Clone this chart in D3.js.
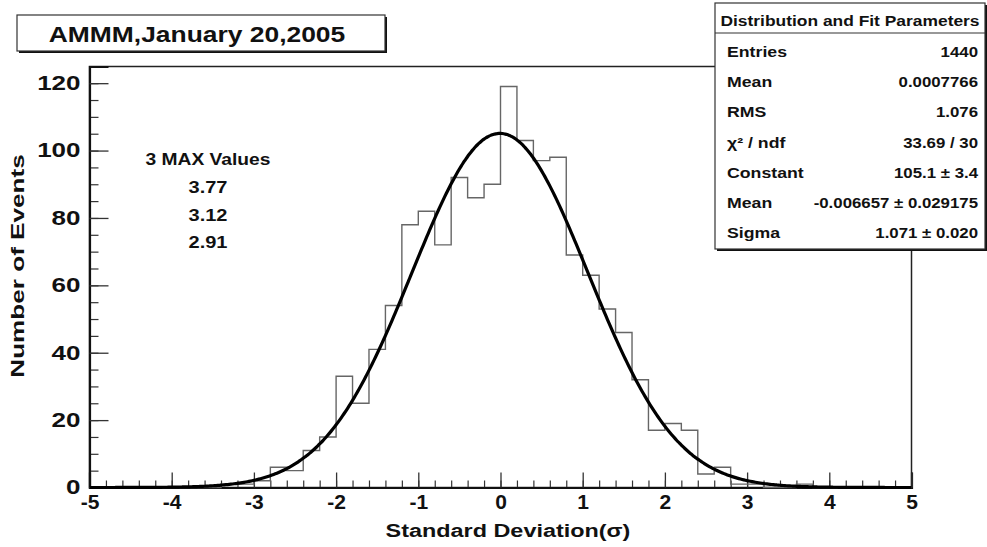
<!DOCTYPE html>
<html>
<head>
<meta charset="utf-8">
<script src="https://cdn.jsdelivr.net/npm/d3@7"></script>
<style>
  body { margin: 0; background: #fff; }
  text { font-family: "Liberation Sans", Arial, Helvetica, sans-serif; font-weight: bold; fill: #111; }
</style>
</head>
<body>
<script>
// histogram: 50 bins of width 0.2 from -5 to 5
const binLow = -5;
const binWidth = 0.2;
const counts = [
  0, 0, 0, 0, 0, 0, 0, 0, 1, 1,
  2, 6, 5, 11, 15, 33, 25, 41, 54, 78,
  82, 72, 92, 86, 90, 119, 103, 97, 98, 69,
  63, 53, 46, 32, 17, 19, 17, 4, 6, 1,
  1, 0, 0, 1, 0, 0, 0, 0, 0, 0
];

// gaussian fit parameters (from the stats box)
const fitConstant = 105.1;
const fitMean = -0.006657;
const fitSigma = 1.071;

const xTicks = [-5, -4, -3, -2, -1, 0, 1, 2, 3, 4, 5];
const yTicks = [0, 20, 40, 60, 80, 100, 120];

const titleText = "AMMM,January 20,2005";
const maxTitle = "3 MAX Values";
const maxValues = ["3.77", "3.12", "2.91"];

const statHeader = "Distribution and Fit Parameters";
const statLabels = ["Entries", "Mean", "RMS", "\u03C7\u00B2 / ndf", "Constant", "Mean", "Sigma"];
const statValues = ["1440", "0.0007766", "1.076", "33.69 / 30", "105.1 \u00B1 3.4", "-0.006657 \u00B1 0.029175", "1.071 \u00B1 0.020"];

const width = 987;
const height = 547;
const mLeft = 89.5, mRight = 911.5, mTop = 66.5, mBottom = 487.5;
const yMax = 124.95;

const svg = d3.select("body").append("svg")
  .attr("width", width)
  .attr("height", height);

const x = d3.scaleLinear().domain([-5, 5]).range([mLeft, mRight]);
const y = d3.scaleLinear().domain([0, yMax]).range([mBottom, mTop]);

// text in the picture is wide, stretch it horizontally
function widen(sel, f) {
  sel.each(function() {
    const w = this.getComputedTextLength();
    d3.select(this).attr("textLength", w * f).attr("lengthAdjust", "spacingAndGlyphs");
  });
}

// frame
svg.append("rect")
  .attr("x", mLeft).attr("y", mTop)
  .attr("width", mRight - mLeft).attr("height", mBottom - mTop)
  .attr("fill", "none").attr("stroke", "#222").attr("stroke-width", 1.5);

// minor ticks
svg.append("g")
  .attr("transform", `translate(0,${mBottom})`)
  .call(d3.axisBottom(x).tickValues(d3.range(-5, 5.001, 0.2)).tickSize(-7).tickFormat(""))
  .call(g => g.select(".domain").remove())
  .selectAll("line").attr("stroke", "#333").attr("stroke-width", 1.2);

svg.append("g")
  .attr("transform", `translate(${mLeft},0)`)
  .call(d3.axisLeft(y).tickValues(d3.range(0, 125, 5)).tickSize(-9).tickFormat(""))
  .call(g => g.select(".domain").remove())
  .selectAll("line").attr("stroke", "#333").attr("stroke-width", 1.2);

// major ticks + labels
const xAxis = svg.append("g")
  .attr("transform", `translate(0,${mBottom})`)
  .call(d3.axisBottom(x).tickValues(xTicks).tickSize(-15).tickPadding(6).tickFormat(d => String(d)));
xAxis.select(".domain").attr("stroke", "#111").attr("stroke-width", 2.2);
xAxis.selectAll("line").attr("stroke", "#333").attr("stroke-width", 1.3);
xAxis.selectAll("text")
  .attr("y", 7).attr("dy", "0.71em")
  .style("font-size", "21px").style("font-family", "'Liberation Sans', Arial, sans-serif").style("font-weight", "bold").attr("fill", "#111")
  .call(widen, 1.0);

const yAxis = svg.append("g")
  .attr("transform", `translate(${mLeft},0)`)
  .call(d3.axisLeft(y).tickValues(yTicks).tickSize(-19).tickPadding(9));
yAxis.select(".domain").attr("stroke", "#111").attr("stroke-width", 2.2);
yAxis.selectAll("line").attr("stroke", "#333").attr("stroke-width", 1.3);
yAxis.selectAll("text")
  .style("font-size", "20px").style("font-family", "'Liberation Sans', Arial, sans-serif").style("font-weight", "bold").attr("fill", "#111")
  .call(widen, 1.3);

// histogram outline
const stepPts = [];
counts.forEach((c, i) => {
  const x0 = binLow + i * binWidth;
  stepPts.push([x0, c], [x0 + binWidth, c]);
});
svg.append("path")
  .datum(stepPts)
  .attr("fill", "none")
  .attr("stroke", "#666")
  .attr("stroke-width", 1.4)
  .attr("d", d3.line().x(d => x(d[0])).y(d => y(d[1])));

// fit curve
const gauss = v => fitConstant * Math.exp(-0.5 * Math.pow((v - fitMean) / fitSigma, 2));
svg.append("path")
  .datum(d3.range(-5, 5.0001, 0.02))
  .attr("fill", "none")
  .attr("stroke", "#000")
  .attr("stroke-width", 3.2)
  .attr("d", d3.line().x(d => x(d)).y(d => y(gauss(d))).curve(d3.curveBasis));

// axis titles
svg.append("text")
  .attr("x", 508).attr("y", 537)
  .attr("text-anchor", "middle")
  .style("font-size", "18px")
  .text("Standard Deviation(\u03C3)")
  .call(widen, 1.3);

svg.append("text")
  .attr("transform", "translate(24,266) rotate(-90)")
  .attr("text-anchor", "middle")
  .style("font-size", "18px")
  .text("Number of Events")
  .call(widen, 1.45);

// 3 max values
svg.append("text")
  .attr("x", 208).attr("y", 165)
  .attr("text-anchor", "middle")
  .style("font-size", "16px")
  .text(maxTitle)
  .call(widen, 1.2);
svg.selectAll(".maxv")
  .data(maxValues)
  .join("text")
  .attr("class", "maxv")
  .attr("x", 208).attr("y", (d, i) => 193 + i * 27.5)
  .attr("text-anchor", "middle")
  .style("font-size", "16px")
  .text(d => d)
  .call(widen, 1.25);

// title box
svg.append("rect").attr("x", 19).attr("y", 17).attr("width", 368).attr("height", 36).attr("fill", "#111");
svg.append("rect").attr("x", 17).attr("y", 15).attr("width", 368).attr("height", 36)
  .attr("fill", "#fff").attr("stroke", "#333").attr("stroke-width", 1.2);
svg.append("text")
  .attr("x", 197).attr("y", 42)
  .attr("text-anchor", "middle")
  .style("font-size", "22px")
  .text(titleText)
  .call(widen, 1.2);

// stats box
const sx = 715, sy = 3, sw = 270, sh = 246;
svg.append("rect").attr("x", sx + 2).attr("y", sy + 2).attr("width", sw).attr("height", sh).attr("fill", "#111");
svg.append("rect").attr("x", sx).attr("y", sy).attr("width", sw).attr("height", sh)
  .attr("fill", "#fff").attr("stroke", "#333").attr("stroke-width", 1.2);
svg.append("line").attr("x1", sx).attr("x2", sx + sw).attr("y1", 33).attr("y2", 33)
  .attr("stroke", "#333").attr("stroke-width", 1.2);
svg.append("text")
  .attr("x", sx + sw / 2).attr("y", 26)
  .attr("text-anchor", "middle")
  .style("font-size", "14.5px")
  .text(statHeader)
  .call(widen, 1.2);

const rowY = d3.scaleLinear().domain([0, statLabels.length - 1]).range([57, 238]);
svg.selectAll(".slab")
  .data(statLabels)
  .join("text")
  .attr("class", "slab")
  .attr("x", 727).attr("y", (d, i) => rowY(i))
  .style("font-size", "15px")
  .text(d => d)
  .call(widen, 1.18);
svg.selectAll(".sval")
  .data(statValues)
  .join("text")
  .attr("class", "sval")
  .attr("x", 978).attr("y", (d, i) => rowY(i))
  .attr("text-anchor", "end")
  .style("font-size", "15px")
  .text(d => d)
  .call(widen, 1.12);
</script>
</body>
</html>
